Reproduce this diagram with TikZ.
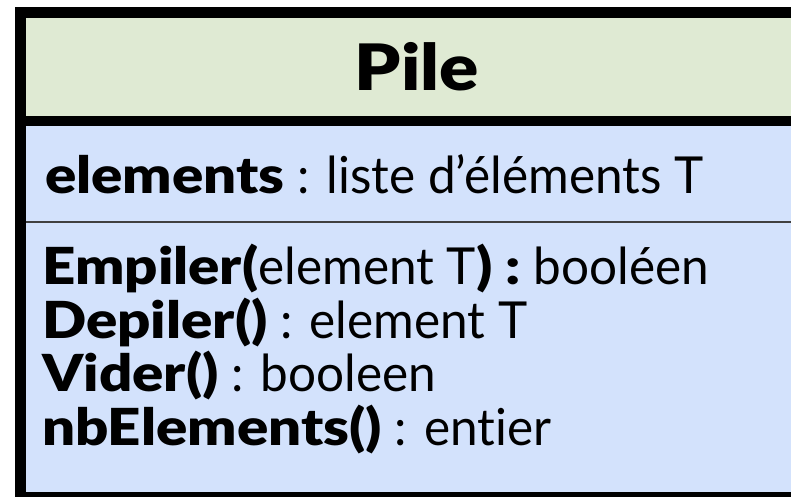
\documentclass[tikz,border=0pt]{standalone}
\usepackage{fontspec}
\setmainfont{Lato}[BoldFont={Lato Black}, UprightFeatures={FakeStretch=0.97},
  BoldFeatures={FakeStretch=1.14}, RawFeature={-liga}]
\definecolor{headgreen}{RGB}{223,234,211}
\definecolor{bodyblue}{RGB}{211,226,252}
\begin{document}
\begin{tikzpicture}[x=1pt,y=-1pt,
  member/.style={anchor=base west, inner sep=0pt, font=\fontsize{51}{56}\selectfont},
  classname/.style={anchor=base, inner sep=0pt, font=\fontsize{64}{70}\selectfont\bfseries}]
\useasboundingbox (0,0) rectangle (791,496);
% class box: header, attribute and method compartments
\begin{scope}
  \clip (0,0) rectangle (791,496);
  \fill[bodyblue] (20.5,12.5) rectangle (811,497.5);
  \fill[headgreen] (20.5,12.5) rectangle (811,121);
  \draw[line width=1.5pt, black!75] (20.5,222) -- (811,222);
  \draw[line width=10pt] (20.5,121) -- (811,121);
  \draw[line width=11pt] (20.5,12.5) rectangle (811,497.5);
\end{scope}
\node[classname] (name) at (417,90) {Pile};
\node[member] (attr) at (45,193) {\textbf{elements} : liste d’éléments T};
\node[member] (m1) at (42,284) {\textbf{Empiler(}element T\textbf{) :} booléen};
\node[member] (m2) at (42,338) {\textbf{Depiler()} : element T};
\node[member] (m3) at (42,391) {\textbf{Vider()} : booleen};
\node[member] (m4) at (42,445) {\textbf{nbElements()} : entier};
\end{tikzpicture}
\end{document}
